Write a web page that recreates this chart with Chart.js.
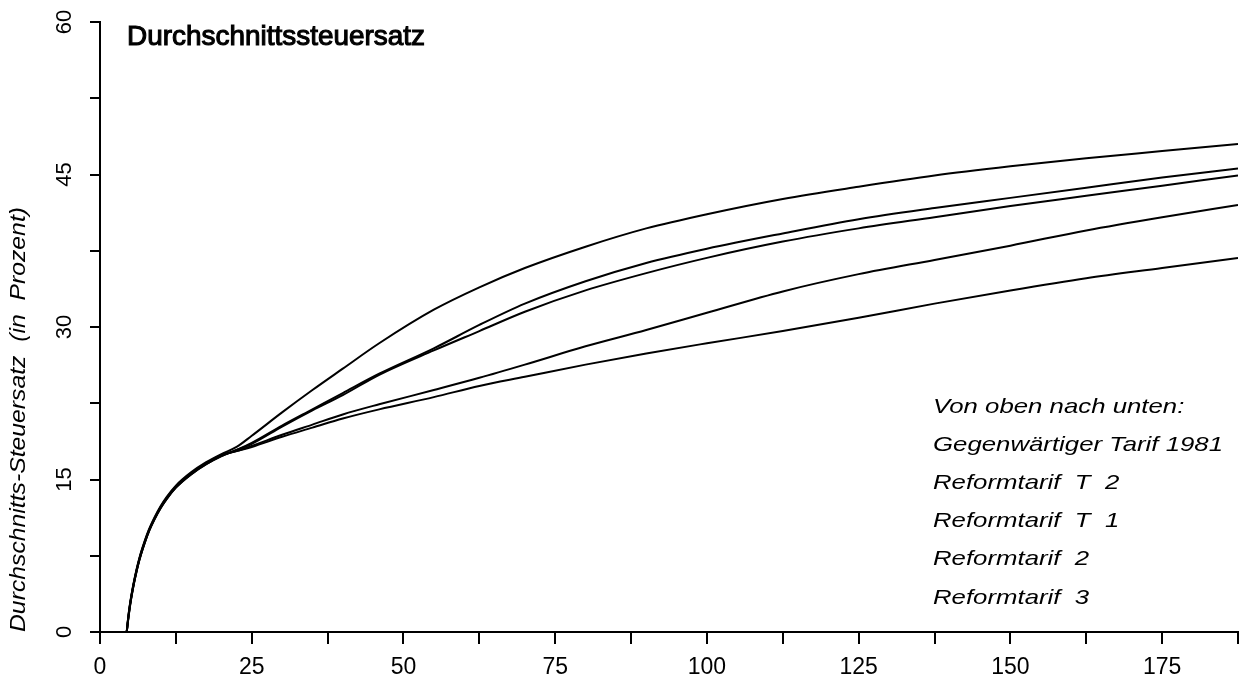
<!DOCTYPE html>
<html>
<head>
<meta charset="utf-8">
<script src="https://cdn.jsdelivr.net/npm/chart.js@4.4.1/dist/chart.umd.min.js"></script>
<style>
  html, body { margin: 0; padding: 0; background: #fff; }
  #wrap { width: 1253px; height: 683px; }
</style>
</head>
<body>
<div id="wrap"><canvas id="taxChart" width="1253" height="683"></canvas></div>
<script>
// Einkommen in 1000 DM
const incomeK = [4.4, 4.7, 5, 5.5, 6, 6.5, 7, 8, 9, 10, 11, 12.5, 15, 17.5, 20, 22.5, 25, 30, 35, 40, 46, 55, 62.5, 70, 80, 90, 100, 112.5, 125, 137.5, 150, 162.5, 175, 187.5];

// Durchschnittssteuersatz in Prozent
const tarif1981 = [0, 1.7, 3.0, 4.7, 6.1, 7.3, 8.3, 10.0, 11.3, 12.4, 13.3, 14.4, 15.7, 16.7, 17.5, 18.2, 19.3, 21.6, 23.8, 25.9, 28.4, 31.7, 33.9, 35.8, 37.9, 39.7, 41.1, 42.6, 43.8, 44.9, 45.8, 46.6, 47.3, 48.0];
const reformT2 = [0, 1.5, 2.8, 4.5, 5.9, 7.1, 8.1, 9.8, 11.1, 12.2, 13.1, 14.2, 15.5, 16.5, 17.3, 17.9, 18.6, 20.3, 21.9, 23.5, 25.4, 27.9, 30.2, 32.3, 34.5, 36.3, 37.7, 39.2, 40.6, 41.7, 42.7, 43.7, 44.7, 45.6];
const reformT1 = [0, 1.5, 2.8, 4.5, 5.9, 7.1, 8.1, 9.8, 11.1, 12.2, 13.1, 14.2, 15.5, 16.5, 17.3, 17.9, 18.5, 20.2, 21.8, 23.3, 25.3, 27.7, 29.6, 31.5, 33.6, 35.3, 36.8, 38.4, 39.7, 40.8, 41.9, 42.9, 43.9, 44.9];
const reform2 = [0, 1.6, 2.9, 4.6, 6.0, 7.2, 8.2, 9.9, 11.2, 12.3, 13.2, 14.3, 15.6, 16.6, 17.4, 17.8, 18.3, 19.4, 20.4, 21.4, 22.4, 23.8, 25.0, 26.3, 28.1, 29.7, 31.4, 33.5, 35.2, 36.6, 38.0, 39.5, 40.8, 42.0];
const reform3 = [0, 1.6, 2.9, 4.6, 6.0, 7.2, 8.2, 9.9, 11.2, 12.3, 13.2, 14.3, 15.6, 16.6, 17.4, 17.8, 18.2, 19.2, 20.1, 21.0, 21.9, 23.1, 24.2, 25.1, 26.3, 27.4, 28.4, 29.6, 30.9, 32.3, 33.6, 34.8, 35.8, 36.8];

const seriesNames = ['Gegenwärtiger Tarif 1981', 'Reformtarif  T  2', 'Reformtarif  T  1', 'Reformtarif  2', 'Reformtarif  3'];
const seriesValues = [tarif1981, reformT2, reformT1, reform2, reform3];

const xTickLabels = [0, 25, 50, 75, 100, 125, 150, 175];
const yTickLabels = [0, 15, 30, 45, 60];

const chartTitle = 'Durchschnittssteuersatz';
const yAxisTitle = 'Durchschnitts-Steuersatz  (in  Prozent)';
const legendHeader = 'Von oben nach unten:';

const FONT = '"Liberation Sans", Arial, sans-serif';

// text squeezed or stretched to a given width (plotter lettering)
function fitText(ctx, text, x, y, width) {
    const w = ctx.measureText(text).width;
    ctx.save();
    ctx.translate(x, y);
    ctx.scale(width / w, 1);
    ctx.fillText(text, 0, 0);
    ctx.restore();
}

const annotationPlugin = {
    id: 'plotterText',
    afterDraw(chart) {
        const ctx = chart.ctx;
        const yScale = chart.scales.y;
        ctx.save();
        ctx.fillStyle = '#000';

        // y tick labels, rotated
        ctx.font = '22px ' + FONT;
        ctx.textAlign = 'center';
        ctx.textBaseline = 'middle';
        yTickLabels.forEach(v => {
            const py = yScale.getPixelForValue(v);
            ctx.save();
            ctx.translate(64, py);
            ctx.rotate(-Math.PI / 2);
            ctx.fillText(String(v), 0, 1);
            ctx.restore();
        });

        // y axis title
        ctx.font = 'italic 22px ' + FONT;
        ctx.textAlign = 'left';
        ctx.textBaseline = 'alphabetic';
        ctx.save();
        ctx.translate(25, 632);
        ctx.rotate(-Math.PI / 2);
        fitText(ctx, yAxisTitle, 0, 0, 425);
        ctx.restore();

        // title inside the plot
        ctx.font = '28px ' + FONT;
        ctx.lineWidth = 1.1;
        ctx.strokeStyle = '#000';
        const tw = ctx.measureText(chartTitle).width;
        ctx.save();
        ctx.translate(127, 45);
        ctx.scale(298 / tw, 1);
        ctx.fillText(chartTitle, 0, 0);
        ctx.strokeText(chartTitle, 0, 0);
        ctx.restore();

        // legend block
        ctx.font = 'italic 21px ' + FONT;
        const lines = [legendHeader].concat(chart.data.datasets.map(d => d.label));
        const sx = 290 / ctx.measureText(lines[1]).width;
        lines.forEach((txt, i) => {
            ctx.save();
            ctx.translate(933, 413 + i * 38.1);
            ctx.scale(sx, 1);
            ctx.fillText(txt, 0, 0);
            ctx.restore();
        });
        ctx.restore();
    }
};

const datasets = seriesValues.map((vals, i) => ({
    label: seriesNames[i],
    data: incomeK.map((x, j) => ({ x: x, y: vals[j] })),
    borderColor: '#000',
    borderWidth: 2,
    pointRadius: 0,
    fill: false,
    cubicInterpolationMode: 'monotone'
}));

new Chart(document.getElementById('taxChart').getContext('2d'), {
    type: 'line',
    data: { datasets: datasets },
    options: {
        responsive: false,
        animation: false,
        devicePixelRatio: 1,
        layout: { padding: { top: 22, right: 15, left: 0, bottom: 0 } },
        plugins: {
            legend: { display: false },
            tooltip: { enabled: false },
            title: { display: false }
        },
        scales: {
            x: {
                type: 'linear',
                min: 0,
                max: 187.5,
                border: { color: '#000', width: 2 },
                grid: { drawOnChartArea: false, drawTicks: true, tickLength: 12, color: '#000', lineWidth: 2 },
                ticks: {
                    stepSize: 12.5,
                    color: '#000',
                    font: { family: FONT, size: 23 },
                    padding: 10,
                    maxRotation: 0,
                    autoSkip: false,
                    callback: v => xTickLabels.includes(v) ? String(v) : ''
                },
                afterFit: scale => { scale.height = 51; }
            },
            y: {
                min: 0,
                max: 60,
                border: { color: '#000', width: 2 },
                grid: { drawOnChartArea: false, drawTicks: true, tickLength: 10, color: '#000', lineWidth: 2 },
                ticks: {
                    stepSize: 7.5,
                    display: false
                },
                afterFit: scale => { scale.width = 100; }
            }
        }
    },
    plugins: [annotationPlugin]
});
</script>
</body>
</html>
